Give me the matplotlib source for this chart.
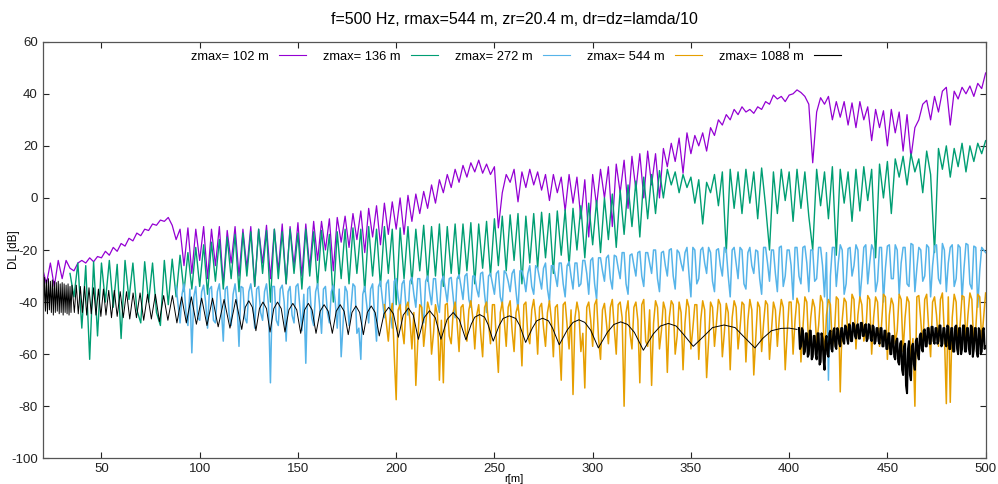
import numpy as np
import matplotlib.pyplot as plt

plt.rcParams['font.family'] = ['Liberation Sans', 'DejaVu Sans']
plt.rcParams['axes.unicode_minus'] = False

# Reading of the curves from the chart (DL in dB), r step 2 m unless noted
# zmax = 102 m, r = 20..500
purple_v = [
    -27, -33, -25, -34, -24, -31, -24, -27, -28, -25,
    -24, -25, -23, -24.5, -22.5, -23, -20.5, -22, -19, -20.5,
    -17.5, -18.5, -15.5, -16.5, -13.5, -14.5, -12, -12.5, -10, -10.5,
    -8.5, -9, -7.5, -10.5, -16, -12, -26, -11.5, -29, -12,
    -24, -11, -31, -12, -26, -11, -33, -12.5, -25, -11,
    -30, -12, -27, -11, -34, -12, -25, -10.5, -31, -12,
    -28, -10, -33, -11, -26, -9.5, -30, -10, -27, -9,
    -24, -9, -20, -8, -28, -7.5, -17, -7, -19, -6,
    -16, -5, -21, -4, -15, -3, -18, -2, -14, -1.5,
    -12, 0, -14, 1, -9, 1.5, -6, 2.5, -4, 5,
    -2, 7, 2, 9, 4, 11, 6, 12.5, 8, 13.5,
    10, 14.5, 9.5, 13, 9, 12, -11.5, 2, 9,
    6, 11, -1.5, 10, 4, 11, 5, 10, 3, 9,
    -1, 9, 2, 8, -5, 9, -2, 8, -8, 7,
    -15, 9, -3, 11, 0, 12, -11, 13, 2, 14.5,
    -4, 16, 3, 17, 0, 18, 5, 17, 0, 19,
    12, 21, 14, 23, 9.5, 25, 17, 24, 20, 25,
    18, 27, 24, 30, 28, 32, 30, 34, 32, 35,
    33, 34, 32.5, 35, 34, 37, 36, 39.5, 38, 39,
    37, 39.5, 40, 41.5, 40.5, 39, 36, 13.5, 33, 38.5,
    36, 39, 30, 37, 31, 37, 28, 36.5, 27, 37,
    30, 35, 22, 34, 27, 33.5, 20, 34, 25, 33,
    18, 32, 15.5, 27, 30, 36, 37.5, 30, 39, 33,
    41, 42.5, 28, 41, 38, 42.5, 40, 43, 39, 44,
    42, 48,
]

# zmax = 136 m, r = 34..500
green_v = [
    -29, -38, -25, -50, -26, -62, -24.5, -53, -25, -40,
    -24, -42, -25.5, -54, -24, -39, -25, -43, -48, -24.5,
    -40, -25, -44, -49, -24, -41, -23.5, -38, -22, -36,
    -21, -35, -19, -34, -18, -37, -17, -32, -16, -35,
    -15, -31, -14, -36, -13.5, -30, -13, -34, -12, -29,
    -12.5, -40, -12, -31, -13, -33, -12, -29, -13.5, -35,
    -12, -30, -13, -34, -12.5, -28, -14, -40, -13, -31,
    -12, -33, -11.5, -29, -12, -36, -11, -30, -12, -34,
    -11, -29, -12, -41, -11.5, -31, -11, -33, -12, -28,
    -10.5, -32, -11, -30, -10, -34, -11, -29, -10, -31,
    -10, -28, -9.5, -33, -10, -27, -9, -30, -8, -26,
    -7, -28, -6.5, -24, -6, -33, -7, -25, -6, -27,
    -5.5, -23, -6, -29, -5, -22, -4.5, -26, -4, -20,
    -3, -23, -2, -18, -1, -21, 0, -16, 1.5, -19,
    3, -14, 5, -11, 6.5, -15, 8, -8, 9, -6,
    10.5, 0, 11, 5, 10, 2, 9, 4, 8, -2,
    7, -10, 6, 2, 9, -3, 10, -21, 11, -4,
    10, -6, 11, -2, 10, -8, 11.5, -3, -20, 10,
    -6, 11, -1, 10, -9, 11, -4, 10, -7, -20,
    11, -3, 10, -8, 12, -22, 11, -2, 10, -9,
    11, -5, 12, -1, 11, -23, 13, 0, 14, -6,
    15, 8, 16, 5, 17, 10, 15, 2, 18, 9,
    -21, 19, 11, 20, 8, 19, 12, 21, 10, 20,
    14, 21, 17, 22,
]

# zmax = 272 m, even r = 88..500 and odd r = 89..499
blue_v = [
    -34, -48, -33, -49, -59.5, -34, -47, -33.5, -50, -34,
    -48, -33, -55, -34, -49, -33, -57, -34.5, -48, -33,
    -50, -34, -47, -33, -71, -34, -49, -33.5, -55, -34,
    -48, -33, -51, -63.5, -34, -49, -33, -52, -34, -48,
    -33.5, -50, -61, -34, -49, -33, -52, -62, -34, -48,
    -33, -55, -32, -46, -31.5, -50, -31, -43, -31.5, -45,
    -30.5, -42, -31, -48, -30, -41, -31, -44, -30, -40,
    -30.5, -46, -29.5, -39, -29, -42, -30, -38, -28.5, -44,
    -29, -37, -28, -41, -29, -36, -27.5, -43, -28, -36,
    -26, -37, -27, -35, -25, -40, -26, -34, -25, -38,
    -24.5, -35, -25, -33, -24, -37, -23, -39, -23, -32,
    -22, -35, -22.5, -31, -21, -37, -21.5, -30, -20.5, -34,
    -21, -29, -20, -36, -20.5, -30, -19.5, -35, -21, -28,
    -19, -38, -20, -31, -19, -29, -21, -36, -19.5, -30,
    -20, -38, -19, -31, -20, -35, -19, -29, -20.5, -37,
    -19, -32, -20, -36, -18.5, -30, -20, -39, -19, -33,
    -18.5, -36, -20, -31, -19, -38, -70, -19, -34, -18,
    -37, -19.5, -30, -18, -39, -19, -33, -18, -36, -19,
    -40, -18.5, -31, -18, -37, -19, -33, -17.5, -36, -19,
    -32, -18, -38, -18.5, -31, -17.5, -36, -19, -34, -18,
    -39, -17.5, -33, -18.5, -42, -19, -21,
]
blue_odd_v = [
    -41, -37, -44, -35, -38, -46, -36, -40, -35, -47,
    -36, -42, -35, -45, -37, -40, -34, -46, -36, -39,
    -35, -44, -36, -41, -34, -47, -35, -40, -36, -45,
    -34, -42, -37, -35, -46, -36, -41, -35, -44, -36,
    -40, -35, -48, -36, -42, -34, -50, -37, -41, -35,
    -45, -34, -39, -33, -44, -32, -38, -33, -42, -32,
    -37, -31, -43, -32, -36, -31, -40, -32, -35, -31,
    -38, -31, -34, -30, -39, -30, -35, -29, -37, -30,
    -33, -29, -38, -28, -32, -29, -36, -28, -31, -29,
    -34, -26, -31, -27, -35, -26, -30, -25, -33, -26,
    -30, -25, -34, -24, -29, -24, -33, -23, -28, -23,
    -31, -22, -27, -21, -33, -22, -26, -21, -30, -21,
    -25, -20, -31, -21, -26, -20, -30, -20, -25, -21,
    -29, -19, -33, -20, -25, -19, -32, -20, -26, -19,
    -30, -20, -25, -19, -33, -21, -26, -20, -31, -19,
    -25, -20, -29, -19, -34, -20, -26, -19, -30, -19,
    -25, -20, -32, -19, -26, -21, -30, -19, -25, -20,
    -33, -19, -26, -20, -30, -18, -25, -20, -32, -19,
    -27, -18, -31, -20, -25, -19, -34, -18, -27, -20,
    -30, -19, -26, -18, -33, -20, -25, -18, -31, -19,
    -27, -18, -35, -19, -28, -20,
]

# zmax = 544 m, even r = 194..500 and odd r = 195..499
orange_v = [
    -41, -55, -40.5, -77.5, -41, -56, -40, -58, -72, -41,
    -57, -40, -60, -41, -70, -71, -40.5, -56, -40, -59,
    -41, -55, -39.5, -58, -41, -61, -40, -56, -41, -67,
    -40, -57, -39.5, -59, -41, -64.5, -40, -56, -39, -60,
    -40.5, -57, -39.5, -61, -41, -70, -40, -58, -75.5, -40,
    -59, -73, -40, -57, -39, -62, -40.5, -56, -39, -60,
    -40, -80, -39.5, -58, -40, -71, -39, -57, -72, -39.5,
    -58, -40, -67, -39.5, -60, -40, -66, -39, -58, -41,
    -62, -39.5, -69, -40, -57, -39, -61, -40.5, -66, -39.5,
    -58, -40, -63, -39, -68, -40, -59, -39.5, -62, -40,
    -57, -39, -66, -40, -60, -38.5, -63, -38, -58, -39,
    -56, -37.5, -62, -39, -57, -38, -74.5, -38.5, -56, -37,
    -58, -38, -55, -37.5, -60, -38, -57, -37, -62, -38.5,
    -56, -37, -59, -38, -63, -80, -37.5, -58, -37, -61,
    -38, -57, -36.5, -79, -78.5, -37, -60, -37.5, -56, -36.5,
    -58, -37, -55, -36.5,
]
orange_odd_v = [
    -48, -45, -60, -43, -50, -42, -47, -44, -55, -42,
    -49, -43, -52, -45, -47, -41, -53, -44, -48, -42,
    -50, -43, -46, -45, -52, -42, -48, -41, -55, -44,
    -47, -42, -51, -44, -48, -41, -53, -43, -46, -42,
    -50, -44, -47, -42, -55, -41, -49, -43, -46, -44,
    -52, -42, -47, -41, -54, -43, -48, -42, -50, -41,
    -46, -44, -52, -42, -47, -41, -55, -43, -48, -42,
    -51, -43, -46, -41, -53, -44, -48, -42, -50, -41,
    -47, -43, -55, -42, -48, -41, -52, -44, -46, -42,
    -50, -41, -47, -43, -54, -42, -48, -41, -51, -43,
    -46, -42, -52, -40, -47, -41, -50, -40, -46, -42,
    -49, -40, -45, -41, -53, -39, -47, -40, -50, -39,
    -45, -41, -52, -39, -46, -40, -49, -38, -45, -41,
    -51, -39, -46, -40, -54, -38, -47, -39, -50, -40,
    -45, -39, -52, -38, -46, -40, -49, -38, -45, -39,
    -50, -38, -46,
]

# zmax = 1088 m, smooth interference arches up to r = 404 (r, DL pairs)
black_r = [
    20, 20.5, 21, 21.5, 22, 22.5, 23, 23.5, 24, 24.5, 25, 25.5, 26, 26.5, 27, 27.5,
    28, 28.5, 29, 29.5, 30, 30.5, 31, 31.5, 32, 32.5, 33, 33.5, 34, 34.5, 35,
    36.2, 37.2, 38.2, 39.25, 40.3, 41.4, 42.5, 43.65, 44.8, 46, 47.2, 48.45, 49.7, 51,
    52.3, 53.7, 55.1, 56.55, 58, 59.55, 61.1, 62.75, 64.4, 66.1, 67.8, 69.65, 71.5, 73.45,
    75.4, 77.45, 79.5, 81.65, 83.8, 86.1, 88.4, 90.8, 93.2, 95.75, 98.3, 101, 103.7, 106.55,
    109.4, 112.4, 115.4, 118.4,
    121.4, 123.2, 125, 126.8, 128.6, 130.4, 132.2, 134, 135.8, 137.7, 139.6, 141.5,
    143.4, 145.4, 147.4, 149.4, 151.4, 153.4, 155.3, 157.2, 159.2, 161.3, 163.3, 165.4,
    167.5, 169.5, 171.5, 173.5, 175.6, 177.5, 179.5, 181.4, 183.3, 185.3, 187.3, 189.3,
    191.4, 193.8, 196.2, 198.6, 201.1, 203.6, 206.2, 208.7, 211.3, 214.2, 217, 219.9,
    222.8, 225.9, 229, 232.1,
    235.5, 238.2, 240, 242.5, 245, 246.7,
    249.4, 252.4, 254.4, 257.6, 260.9, 262.9,
    265.9, 269.3, 271.5, 274.5, 277.5, 279.6,
    283, 287, 290, 293, 296, 299,
    302.9, 307.5, 310.8, 314.3, 317.8, 321.2,
    325.8, 330.9, 334.5, 338.5, 342.5, 346,
    351.2, 357, 361, 366.9, 372.5, 376.3,
    382.6, 386.5, 391, 396, 400, 404,
]
black_v = [
    -31, -44, -30.5, -43.5, -31.5, -44.5, -31, -43, -32, -44, -31.5, -45, -32, -44, -32.5, -43.5,
    -32, -44.5, -33, -44, -32.5, -45, -33, -44, -33.5, -44.5, -33, -45, -34, -44, -33.5,
    -44, -33.5, -44.5, -34, -44, -34, -45, -34.5, -44.5, -34.5, -45, -35, -45.5, -35,
    -45, -35.5, -46, -35.5, -45.5, -36, -46, -36, -46.5, -36.5, -46, -36.5, -47, -37,
    -46.5, -37, -47.5, -37.5, -47, -37.5, -48, -38, -48, -38, -48.5, -38.5, -49, -38.5,
    -49.5, -39, -50, -39,
    -50.5, -42, -39.5, -42, -51, -42.5, -40, -42.5, -51.5, -42.5, -40, -42.5,
    -51.5, -43, -40.5, -43, -52, -43, -40.5, -43, -52, -43.5, -41, -43.5,
    -52, -43.5, -41, -43.5, -52.5, -44, -41.5, -44, -52.5, -44, -41.5, -44,
    -53, -44.5, -42, -44.5, -53.5, -45, -42.3, -45, -54.3, -46, -43.3, -46,
    -54.3, -46.7, -44, -46.7,
    -54.5, -48.5, -45.8, -44.8, -45.8, -48.5,
    -55, -49, -46.3, -45.3, -46.3, -49,
    -55.5, -50, -47.2, -46.2, -47.2, -50,
    -56.4, -50.8, -47.8, -46.8, -47.8, -50.8,
    -57.6, -51.6, -48.6, -47.6, -48.6, -51.6,
    -58.5, -52.2, -49.2, -48.2, -49.2, -52.2,
    -57, -52.8, -49.8, -48.8, -49.8, -52.8,
    -57.6, -54, -51, -50.1, -50, -50.5,
]
# zmax = 1088 m, noisy part: whole r = 405..500 and half r = 405.5..499.5
black_noise_v = [
    -50, -57, -51, -59, -52, -60, -51, -61, -53, -62,
    -52, -63, -54, -66, -53, -61, -51, -59, -50, -58,
    -51, -57, -50, -56, -49.5, -56, -49, -55, -48.5, -54,
    -48.5, -54, -48, -53, -48.5, -54, -49, -55, -49.5, -55,
    -50, -56, -50, -57, -51, -58, -52, -60, -53, -62,
    -54, -64, -55, -68, -56, -75, -55, -70, -56, -66,
    -54, -62, -52, -59, -50.5, -57, -50, -56, -49.5, -56,
    -50, -55, -49, -56, -50, -57, -49.5, -58, -50, -59,
    -49, -60, -50, -58, -49, -59, -50, -60, -49.5, -58,
    -50, -61, -51, -59, -50, -57,
]
black_half_v = [
    -58, -50, -60, -52, -61, -51, -62, -53, -60, -52,
    -64, -52, -62, -55, -60, -52, -58, -51, -57, -50,
    -56, -50, -55, -49, -54, -48.5, -55, -48, -53, -49,
    -54, -48, -53, -49, -55, -48.5, -54, -49, -56, -50,
    -55, -50, -57, -51, -58, -52, -60, -53, -61, -55,
    -63, -56, -66, -57, -72, -58, -68, -57, -64, -55,
    -60, -53, -58, -51, -57, -50, -56, -49.5, -55, -50,
    -56, -49, -57, -50, -56, -49, -58, -50, -59, -49.5,
    -58, -50, -60, -49, -59, -50, -58, -49, -61, -50,
    -59, -50, -60, -51, -58,
]


def merge(r1, v1, r2, v2):
    # put two sets of readings on one r axis, in order
    r = np.concatenate([r1, r2])
    v = np.concatenate([v1, v2])
    idx = np.argsort(r)
    return r[idx], v[idx]


blue_r, blue_all = merge(np.arange(88, 501, 2), blue_v, np.arange(89, 500, 2), blue_odd_v)
orange_r, orange_all = merge(np.arange(194, 501, 2), orange_v, np.arange(195, 500, 2), orange_odd_v)
noise_r, noise_all = merge(np.arange(405, 501, 1.0), black_noise_v,
                           np.arange(405.5, 500, 1.0), black_half_v)

labels = ['zmax= 102 m', 'zmax= 136 m', 'zmax= 272 m', 'zmax= 544 m', 'zmax= 1088 m']
colors = ['#9400D3', '#009E73', '#56B4E9', '#E69F00', '#000000']

fig = plt.figure(figsize=(9.98, 4.84), dpi=100)
ax = fig.add_axes([0.0426, 0.0531, 0.945, 0.8607])

ax.plot(np.arange(20, 501, 2), purple_v, color=colors[0], lw=0.9, label=labels[0])
ax.plot(np.arange(34, 501, 2), green_v, color=colors[1], lw=1.0, label=labels[1])
ax.plot(blue_r, blue_all, color=colors[2], lw=1.1, label=labels[2])
ax.plot(orange_r, orange_all, color=colors[3], lw=1.1, label=labels[3])
ax.plot(black_r, black_v, color=colors[4], lw=0.7, label=labels[4])
ax.plot(noise_r, noise_all, color=colors[4], lw=1.5)

ax.set_xlim(20, 500)
ax.set_ylim(-100, 60)
ax.set_xticks(range(50, 501, 50))
ax.set_yticks(range(-100, 61, 20))
ax.tick_params(direction='in', top=True, right=True, length=4, width=0.8,
               labelsize=9.5, colors='#222222')
for s in ax.spines.values():
    s.set_color('#555555')
    s.set_linewidth(0.9)

ax.set_title('f=500 Hz, rmax=544 m, zr=20.4 m, dr=dz=lamda/10', fontsize=11.5, pad=13)
ax.set_xlabel('r[m]', fontsize=8, labelpad=-1)
ax.set_ylabel('DL [dB]', fontsize=8.5)
ax.yaxis.set_label_coords(-0.024, 0.5)

leg = ax.legend(loc='upper center', bbox_to_anchor=(0.502, 1.0), ncol=5, frameon=False,
                markerfirst=False, fontsize=9.3, handlelength=2.1, columnspacing=1.3,
                handletextpad=0.8, borderaxespad=0.3)
for line in leg.get_lines():
    line.set_linewidth(0.8)

plt.savefig('out.png', dpi=100)
